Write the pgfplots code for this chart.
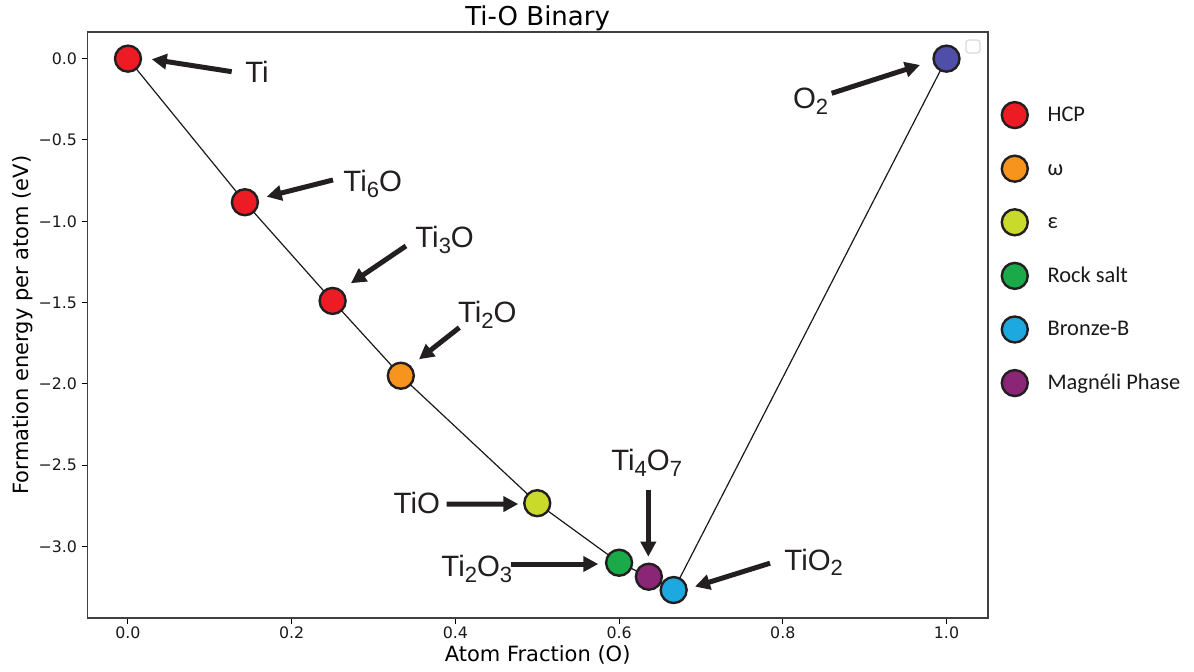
\documentclass[border=0pt]{standalone}
\usepackage{fontspec}
\setmainfont{DejaVu Sans}
\newfontfamily\lib{Liberation Sans}
\newfontfamily\carlito{Carlito}
\usepackage{pgfplots}
\pgfplotsset{compat=1.18}
\usetikzlibrary{arrows.meta}
\definecolor{cHCP}{HTML}{ED1C24}
\definecolor{cOmega}{HTML}{F7941D}
\definecolor{cEps}{HTML}{C9DA2A}
\definecolor{cRock}{HTML}{1AAA4A}
\definecolor{cBronze}{HTML}{1DA8E0}
\definecolor{cMag}{HTML}{8B2575}
\definecolor{cOx}{HTML}{4F4FAA}
\definecolor{edge}{HTML}{231F20}
\newcommand\sub[1]{\raisebox{-2.8pt}{\fontsize{11}{12}\selectfont #1}}
\tikzset{ann/.style={anchor=base west, inner sep=0pt, font=\lib\fontsize{14.7}{16}\selectfont, text=edge},
  arr/.style={draw=edge, line width=2.5pt, -{Triangle[length=7.5pt,width=7.5pt]}}}
\pgfplotsset{mk/.style={only marks, mark=*, mark size=6.5pt, mark options={draw=edge, line width=1.2pt, fill=#1}}}
\begin{document}
\begin{tikzpicture}
\begin{axis}[
  at={(43.65pt,26.5pt)}, anchor=south west,
  scale only axis, width=450.35pt, height=293pt,
  xmin=-0.0497, xmax=1.0507, ymin=-3.44, ymax=0.164,
  clip=false,
  axis line style={draw=black!75, line width=0.6pt},
  tick pos=left, tick align=outside, major tick length=2.8pt,
  tick style={black, line width=0.5pt},
  xtick={0,0.2,0.4,0.6,0.8,1.0},
  xticklabels={0.0,0.2,0.4,0.6,0.8,1.0},
  ytick={-3,-2.5,-2,-1.5,-1,-0.5,0},
  yticklabels={−3.0,−2.5,−2.0,−1.5,−1.0,−0.5,0.0},
  ticklabel style={font=\fontsize{7.9}{9}\selectfont, inner sep=0pt, text=black!90},
  yticklabel style={anchor=east, xshift=-2.2pt},
  xticklabel style={anchor=north, yshift=-1.6pt},
  every axis title shift=0pt,
  title={Ti-O Binary},
  title style={at={(axis description cs:0.5,1.0119)}, anchor=base, font=\fontsize{13}{15}\selectfont, inner sep=0pt},
  xlabel={Atom Fraction (O)},
  xlabel style={at={(axis description cs:0.5,-0.0746)}, anchor=base, font=\fontsize{10.5}{12}\selectfont, inner sep=0pt},
  ylabel={Formation energy per atom (eV)},
  ylabel style={at={(axis description cs:-0.0655,0.5)}, rotate=0, anchor=base, font=\fontsize{10.5}{12}\selectfont, inner sep=0pt},
  legend style={at={(axis description cs:1.0153,0.8804)}, anchor=north west, draw=none, fill=none,
    inner sep=0pt, outer sep=0pt, row sep=13.8pt, column sep=9.9pt,
    font=\carlito\fontsize{11.2}{13}\selectfont, text=black!90,
    nodes={inner sep=0pt, text height=0.64em, text depth=0pt}},
  legend cell align=left,
  legend image code/.code={\draw[#1] plot coordinates {(0pt,0pt)};},
]
\addplot[draw=black!90, line width=0.6pt, forget plot] coordinates {
  (0,0) (0.142857,-0.883) (0.25,-1.49) (0.333333,-1.95) (0.5,-2.734)
  (0.6,-3.10) (0.636364,-3.186) (0.666667,-3.268) (1,0)};
\addplot[mk=cHCP, forget plot] coordinates {(0,0) (0.142857,-0.883) (0.25,-1.49)};
\addplot[mk=cOmega, forget plot] coordinates {(0.333333,-1.95)};
\addplot[mk=cEps, forget plot] coordinates {(0.5,-2.734)};
\addplot[mk=cRock, forget plot] coordinates {(0.6,-3.10)};
\addplot[mk=cMag, forget plot] coordinates {(0.636364,-3.186)};
\addplot[mk=cBronze, forget plot] coordinates {(0.666667,-3.268)};
\addplot[mk=cOx, forget plot] coordinates {(1,0)};
\addlegendimage{mk=cHCP}\addlegendentry{HCP}
\addlegendimage{mk=cOmega}\addlegendentry{ω}
\addlegendimage{mk=cEps}\addlegendentry{ε}
\addlegendimage{mk=cRock}\addlegendentry{Rock salt}
\addlegendimage{mk=cBronze}\addlegendentry{Bronze-B}
\addlegendimage{mk=cMag}\addlegendentry{Magnéli Phase}
% annotations
\draw[arr] (axis cs:0.1267,-0.080) -- (axis cs:0.0290,-0.0037);
\draw[arr] (axis cs:0.2505,-0.746) -- (axis cs:0.1695,-0.849);
\draw[arr] (axis cs:0.3396,-1.152) -- (axis cs:0.2724,-1.381);
\draw[arr] (axis cs:0.4048,-1.654) -- (axis cs:0.3555,-1.849);
\draw[arr] (axis cs:0.3894,-2.740) -- (axis cs:0.4769,-2.739);
\draw[arr] (axis cs:0.4679,-3.108) -- (axis cs:0.5746,-3.108);
\draw[arr] (axis cs:0.6357,-2.653) -- (axis cs:0.6357,-3.063);
\draw[arr] (axis cs:0.7844,-3.103) -- (axis cs:0.6927,-3.247);
\draw[arr] (axis cs:0.8597,-0.213) -- (axis cs:0.9676,-0.0387);
\node[ann] at (axis cs:0.1429,-0.1476) {Ti};
\node[ann] at (axis cs:0.2627,-0.818) {Ti\sub{6}O};
\node[ann] at (axis cs:0.3506,-1.162) {Ti\sub{3}O};
\node[ann] at (axis cs:0.4028,-1.624) {Ti\sub{2}O};
\node[ann] at (axis cs:0.3242,-2.796) {TiO};
\node[ann] at (axis cs:0.3824,-3.186) {Ti\sub{2}O\sub{3}};
\node[ann] at (axis cs:0.590,-2.534) {Ti\sub{4}O\sub{7}};
\node[ann] at (axis cs:0.8015,-3.145) {TiO\sub{2}};
\node[ann] at (axis cs:0.8121,-0.309) {O\sub{2}};
\draw[draw=black!15, line width=0.6pt, rounded corners=1.5pt] (axis cs:1.0238,0.115) rectangle (axis cs:1.0409,0.035);
\end{axis}
\pgfresetboundingbox
\path[use as bounding box] (0,0) rectangle (597pt,335.5pt);
\end{tikzpicture}
\end{document}
